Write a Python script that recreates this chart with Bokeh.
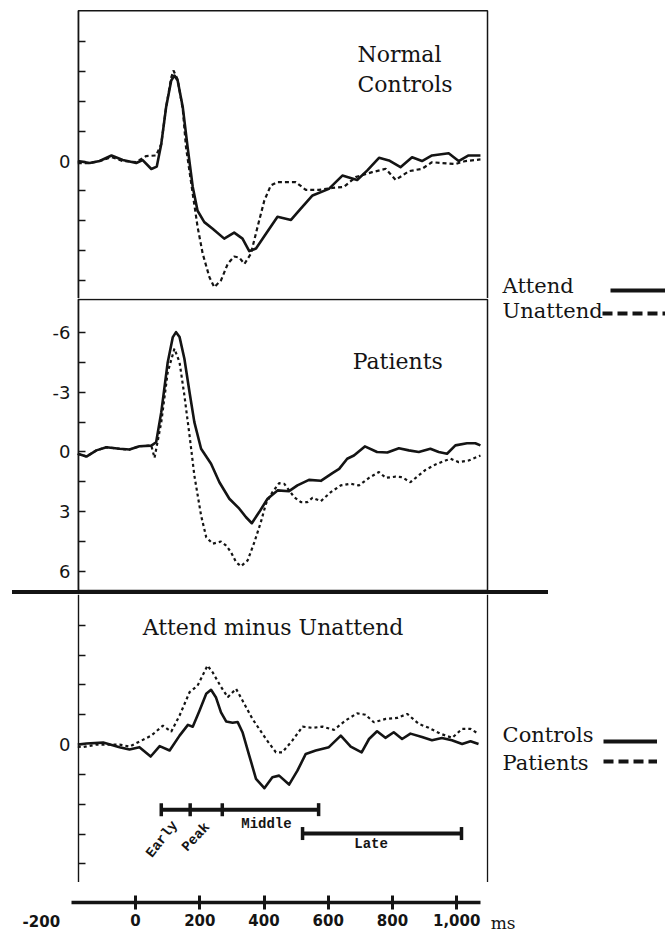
import numpy as np
from bokeh.plotting import figure
from bokeh.models import (Range1d, LinearAxis, FixedTicker, Label, Legend, LegendItem, Div, Spacer,
                          BoxAnnotation, Span)
from bokeh.layouts import column, row
from bokeh.embed import file_html
from bokeh.resources import INLINE
from bokeh.core.properties import value

# ---------------- data (time in ms, amplitude in microvolts, negative up) ----------------
nc_attend_t = [-180, -143, -112, -75, -40, 2, 22, 49, 66, 80, 95, 111, 121, 131, 147, 162, 178, 193,
               214, 240, 276, 307, 333, 354, 375, 406, 442, 484, 509, 551, 602, 644, 690, 721, 758,
               789, 825, 861, 892, 923, 975, 1006, 1037, 1074]
nc_attend_v = [0, 0.1, 0, -0.28, -0.05, 0.1, -0.05, 0.4, 0.28, -0.86, -2.7, -4.05, -4.3, -4.05, -2.7,
               -0.7, 1.3, 2.5, 3.07, 3.4, 3.9, 3.6, 3.9, 4.53, 4.4, 3.66, 2.8, 2.96, 2.49, 1.73, 1.4,
               0.73, 0.95, 0.48, -0.16, -0.03, 0.31, -0.19, 0, -0.28, -0.39, 0, -0.28, -0.28]
nc_unattend_t = [-180, -143, -112, -75, -40, 2, 33, 64, 80, 95, 111, 118, 131, 147, 157, 178, 193, 209,
                 230, 245, 266, 287, 307, 323, 339, 359, 380, 401, 421, 442, 478, 499, 530, 571, 613,
                 649, 685, 737, 779, 810, 851, 892, 923, 954, 996, 1027, 1074]
nc_unattend_v = [0.1, 0.1, 0, -0.2, 0, 0.05, -0.25, -0.28, -0.86, -2.7, -4.2, -4.55, -4.1, -2.6, -0.7,
                 1.65, 3.3, 4.66, 5.84, 6.34, 6.0, 5.17, 4.8, 4.85, 5.17, 4.66, 3.3, 1.98, 1.23, 1.06,
                 1.06, 1.06, 1.45, 1.45, 1.35, 1.3, 0.81, 0.56, 0.39, 0.95, 0.51, 0.39, 0.06, 0.1, 0.15,
                 0, -0.08]

pt_attend_t = [-180, -153, -122, -91, -50, -19, 12, 49, 64, 80, 100, 116, 126, 137, 152, 168, 183, 204,
               235, 261, 292, 323, 344, 362, 385, 411, 442, 478, 504, 540, 577, 613, 634, 659, 680, 714,
               752, 784, 820, 851, 882, 918, 944, 970, 996, 1032, 1058, 1074]
pt_attend_v = [0.09, 0.23, -0.08, -0.24, -0.16, -0.12, -0.29, -0.32, -0.49, -2.0, -4.5, -5.77, -6.02,
               -5.77, -4.68, -3.0, -1.5, -0.16, 0.59, 1.52, 2.35, 2.85, 3.28, 3.58, 3.02, 2.35, 1.93,
               1.97, 1.68, 1.4, 1.45, 1.06, 0.85, 0.34, 0.18, -0.28, 0, 0.03, -0.19, -0.08, 0, -0.16,
               0, 0.09, -0.33, -0.44, -0.44, -0.33]
pt_unattend_t = [-180, -153, -122, -91, -50, -19, 12, 49, 59, 80, 100, 121, 137, 152, 168, 183, 204, 220,
                 240, 266, 282, 297, 313, 328, 349, 370, 390, 406, 426, 447, 463, 494, 515, 535, 551,
                 577, 608, 639, 670, 696, 727, 758, 779, 810, 830, 856, 877, 903, 934, 965, 981, 1006,
                 1037, 1074]
pt_unattend_v = [0.09, 0.23, -0.08, -0.24, -0.16, -0.12, -0.29, -0.32, 0.3, -1.5, -4.0, -5.19, -4.5,
                 -2.84, -0.83, 1.18, 3.19, 4.28, 4.61, 4.5, 4.7, 5.03, 5.54, 5.74, 5.45, 4.53, 3.53, 2.6,
                 2.02, 1.57, 1.6, 2.27, 2.52, 2.52, 2.3, 2.47, 2.02, 1.68, 1.6, 1.68, 1.3, 1.01, 1.3,
                 1.24, 1.27, 1.52, 1.24, 0.9, 0.63, 0.43, 0.34, 0.51, 0.43, 0.18]

diff_controls_t = [-180, -153, -101, -50, -19, 12, 47, 75, 106, 137, 163, 178, 199, 220, 235, 250, 266,
                   282, 302, 318, 333, 354, 375, 401, 426, 447, 478, 504, 530, 561, 602, 639, 670, 704,
                   727, 752, 778, 804, 830, 856, 892, 923, 954, 985, 1017, 1043, 1068]
diff_controls_v = [0, -0.05, -0.1, 0.13, 0.25, 0.13, 0.6, 0.08, 0.3, -0.45, -0.99, -0.9, -1.7, -2.55,
                   -2.75, -2.38, -1.62, -1.16, -1.1, -1.13, -0.62, 0.55, 1.72, 2.19, 1.64, 1.56, 2.01,
                   1.31, 0.47, 0.3, 0.13, -0.45, 0.1, 0.39, -0.28, -0.67, -0.34, -0.62, -0.28, -0.55,
                   -0.38, -0.22, -0.33, -0.22, -0.03, -0.17, -0.03]
diff_patients_t = [-180, -164, -122, -50, -19, 12, 49, 85, 111, 137, 168, 193, 224, 240, 266, 287, 313,
                   333, 364, 406, 437, 457, 488, 520, 551, 582, 618, 654, 690, 716, 742, 779, 815, 846,
                   882, 913, 950, 986, 1017, 1043, 1068]
diff_patients_v = [0.1, 0.13, 0, 0, 0.1, -0.15, -0.45, -0.95, -0.65, -1.46, -2.63, -2.96, -3.97, -3.63,
                   -2.9, -2.38, -2.8, -2.21, -1.29, -0.28, 0.39, 0.39, -0.2, -0.9, -0.84, -0.9, -0.74,
                   -1.21, -1.57, -1.5, -1.12, -1.29, -1.34, -1.54, -1.04, -0.84, -0.54, -0.34, -0.79,
                   -0.79, -0.54]

window_names = ["Early", "Peak", "Middle"]
window_edges = [80, 170, 270, 570]
late_name = "Late"
late_window = [520, 1015]

y_ticks = [-6, -4.5, -3, -1.5, 0, 1.5, 3, 4.5, 6]
y_tick_labels_patients = ["-6", "", "-3", "", "0", "", "3", "", "6"]
y_tick_labels_zero = ["", "", "", "", "0", "", "", "", ""]
time_ticks = [-200, 0, 200, 400, 600, 800, 1000]
time_tick_labels = ["-200", "0", "200", "400", "600", "800", "1,000"]
time_unit = "ms"

# ---------------- styling / layout ----------------
INK = "#141414"
SERIF = "DejaVu Serif"
SANS = "DejaVu Sans"
W = 672
X_RANGE = (-420.7, 1672.1)        # full-bleed frames: 0 ms sits at 135 px
PANEL_X = (-178, 1096)            # left / right edge of the boxed panels
AXIS_END = 1074                   # right end of the time axis line
KEY_X = 1143                      # left edge of the key texts (ms scale)


def make_panel(height, y_top, y_bot, box_top, box_bot, labels):
    p = figure(width=W, height=height, output_backend="svg", toolbar_location=None,
               x_range=Range1d(*X_RANGE), y_range=Range1d(y_bot, y_top),
               x_axis_location=None, y_axis_location=None, min_border=0,
               background_fill_color="white", border_fill_color="white",
               outline_line_color=None)
    p.grid.visible = False
    ax = LinearAxis(fixed_location=PANEL_X[0], bounds=(box_top, box_bot),
                    ticker=FixedTicker(ticks=y_ticks, minor_ticks=[]),
                    major_label_overrides=dict(zip(y_ticks, labels)),
                    axis_line_color=INK, axis_line_width=1.4,
                    major_tick_line_color=INK, major_tick_line_width=1.4,
                    major_tick_in=7, major_tick_out=0, minor_tick_line_color=None,
                    major_label_standoff=8, major_label_text_font=SANS,
                    major_label_text_font_size="18px", major_label_text_color=INK)
    p.add_layout(ax, "left")
    return p


def add_key(p, entries, loc, glyph_width):
    """entries: (label, t, v, dash, text_y). Samples drawn by a Legend, texts by Labels."""
    items = []
    for label, t, v, dash, text_y in entries:
        r = p.line(t, v, line_color=INK, line_width=4, line_dash=dash, visible=False)
        items.append(LegendItem(label=" ", renderers=[r]))
        p.add_layout(Label(x=KEY_X, y=text_y, text=label, text_font=SERIF, text_font_size="21px",
                           text_color=INK, text_baseline="middle"))
    leg = Legend(items=items, location=loc, glyph_width=glyph_width, glyph_height=16,
                 label_height=16, label_standoff=0, padding=0, margin=0, spacing=4,
                 border_line_color=None, background_fill_alpha=0, inactive_fill_alpha=0,
                 label_text_font_size="6px")
    p.add_layout(leg)


def title(p, text, x, y):
    p.add_layout(Label(x=x, y=y, text=text, text_font=SERIF, text_font_size="22px",
                       text_color=INK, text_baseline="middle"))


def box(p, top, bot):
    p.add_layout(BoxAnnotation(left=PANEL_X[0], right=PANEL_X[1], top=top, bottom=bot,
                               fill_alpha=0, line_color=INK, line_alpha=1.0, line_width=1.5))


# Panel 1: Normal controls  (canvas rows 0..298), box open at the bottom
p1 = make_panel(298, -8.07, 6.91, -7.56, 6.91, y_tick_labels_zero)
box(p1, -7.56, 8.0)
p1.line(nc_attend_t, nc_attend_v, line_color=INK, line_width=2.6, line_join="round")
p1.line(nc_unattend_t, nc_unattend_v, line_color=INK, line_width=2.2, line_dash="4 3")
title(p1, "Normal", 691, -5.35)
title(p1, "Controls", 691, -3.85)
add_key(p1, [("Attend", nc_attend_t, nc_attend_v, "solid", 6.26)], (610, 0), 55)

# Panel 2: Patients  (canvas rows 298..590)
p2 = make_panel(292, -7.71, 6.96, -7.71, 6.96, y_tick_labels_patients)
box(p2, -7.66, 6.96)
p2.line(pt_attend_t, pt_attend_v, line_color=INK, line_width=2.6, line_join="round")
p2.line(pt_unattend_t, pt_unattend_v, line_color=INK, line_width=2.2, line_dash="3 3")
title(p2, "Patients", 676, -4.52)
add_key(p2, [("Unattend", nc_unattend_t, nc_unattend_v, "10 5", -7.06)], (602, 269), 63)

# thick separator
strip = row(Spacer(width=12, height=4),
            Div(text="", width=536, height=4, margin=0, styles={"background-color": INK}))

# Panel 3: difference waves  (canvas rows 594..882)
p3 = make_panel(288, -7.54, 6.93, -7.54, 6.93, y_tick_labels_zero)
p3.add_layout(Span(location=PANEL_X[1], dimension="height", line_color=INK, line_width=1.3))
p3.line(diff_controls_t, diff_controls_v, line_color=INK, line_width=2.6, line_join="round")
p3.line(diff_patients_t, diff_patients_v, line_color=INK, line_width=2.2, line_dash="3 3")
title(p3, "Attend minus Unattend", 22, -5.88)
add_key(p3, [("Controls", diff_controls_t, diff_controls_v, "solid", -0.5),
             ("Patients", diff_patients_t, diff_patients_v, "10 5", 0.93)], (603, 113), 54)

# analysis windows
y_bar_main, y_bar_late = 3.27, 4.47
p3.segment(x0=[window_edges[0]], y0=[y_bar_main], x1=[window_edges[-1]], y1=[y_bar_main],
           line_color=INK, line_width=4)
p3.scatter(x=window_edges, y=[y_bar_main] * len(window_edges), marker="dash", angle=np.pi / 2,
           size=13, line_color=INK, line_width=3.5)
p3.segment(x0=[late_window[0]], y0=[y_bar_late], x1=[late_window[1]], y1=[y_bar_late],
           line_color=INK, line_width=4)
p3.scatter(x=late_window, y=[y_bar_late] * 2, marker="dash", angle=np.pi / 2,
           size=13, line_color=INK, line_width=3.5)
mids = [(a + b) / 2 for a, b in zip(window_edges[:-1], window_edges[1:])]
wfont = dict(text_font=value("Liberation Mono"), text_font_style="bold", text_font_size="14px",
             text_color=INK)
p3.text(x=[mids[0]], y=[y_bar_main], text=[window_names[0]], angle=np.radians(52),
        text_align="right", text_baseline="middle", x_offset=-1, y_offset=13, **wfont)
p3.text(x=[mids[1]], y=[y_bar_main], text=[window_names[1]], angle=np.radians(47),
        text_align="right", text_baseline="middle", x_offset=1, y_offset=15, **wfont)
p3.text(x=[mids[2]], y=[y_bar_main], text=[window_names[2]], text_align="center",
        text_baseline="middle", x_offset=-4, y_offset=14, **wfont)
p3.text(x=[(late_window[0] + late_window[1]) / 2], y=[y_bar_late], text=[late_name],
        text_align="center", text_baseline="middle", x_offset=-11, y_offset=10, **wfont)

# bottom time axis  (canvas rows 882..932, y in pixels from the bottom)
pa = figure(width=W, height=50, output_backend="svg", toolbar_location=None,
            x_range=Range1d(*X_RANGE), y_range=Range1d(0, 50),
            x_axis_location=None, y_axis_location=None, min_border=0,
            outline_line_color=None, background_fill_color="white", border_fill_color="white")
pa.grid.visible = False
AXIS_Y = 30
xa = LinearAxis(fixed_location=AXIS_Y, bounds=(time_ticks[0], AXIS_END),
                ticker=FixedTicker(ticks=time_ticks[1:], minor_ticks=[]),
                major_label_overrides=dict(zip(time_ticks, time_tick_labels)),
                axis_line_color=INK, axis_line_width=3.5,
                major_tick_line_color=INK, major_tick_line_width=3,
                major_tick_in=7, major_tick_out=7, minor_tick_line_color=None,
                major_label_standoff=4, major_label_text_font=SANS,
                major_label_text_font_style="bold", major_label_text_font_size="15px",
                major_label_text_color=INK)
pa.add_layout(xa, "below")
pa.text(x=[time_ticks[0]], y=[AXIS_Y], text=[time_tick_labels[0]], x_offset=-30, y_offset=18,
        text_align="center", text_baseline="middle", text_font=value(SANS),
        text_font_style="bold", text_font_size="15px", text_color=INK)
pa.text(x=[time_ticks[-1]], y=[AXIS_Y], text=[time_unit], x_offset=34, y_offset=20,
        text_align="left", text_baseline="middle", text_font=value(SERIF),
        text_font_size="17px", text_color=INK)

p = column(p1, p2, strip, p3, pa, spacing=0)
open("out.html", "w").write(file_html(p, INLINE))
